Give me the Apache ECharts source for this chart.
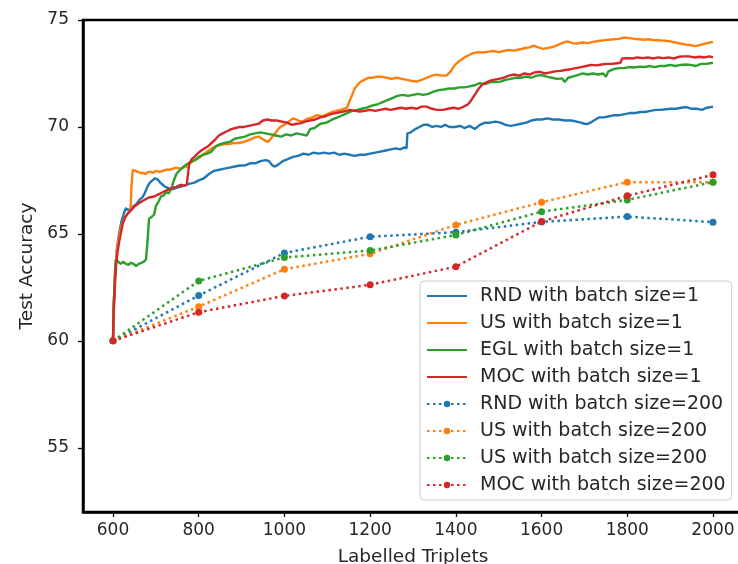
<!DOCTYPE html>
<html>
<head>
<meta charset="utf-8">
<script src="https://cdn.jsdelivr.net/npm/echarts@6/dist/echarts.min.js"></script>
<style>
  html, body { margin: 0; padding: 0; background: #fff; }
  #chart { width: 738px; height: 564px; }
</style>
</head>
<body>
<div id="chart"></div>
<script>
// batch size = 1 curves, [labelled triplets, accuracy]
const rnd1 = [[600,60],[602,61.8],[605,63.2],[609,64.3],[614,65.0],[620,65.6],[626,66.0],[630,66.2],[636,66.1],[642,66.2],[648,66.3],[655,66.4],[662,66.6],[668,66.7],[674,66.9],[680,67.2],[686,67.4],[692,67.5],[698,67.6],[704,67.55],[710,67.4],[716,67.3],[722,67.2],[728,67.15],[734,67.1],[740,67.1],[748,67.15],[756,67.2],[764,67.25],[772,67.3],[780,67.35],[790,67.4],[800,67.5],[812,67.6],[824,67.8],[836,67.95],[848,68.0],[860,68.05],[872,68.1],[884,68.15],[896,68.2],[908,68.2],[920,68.3],[932,68.3],[944,68.4],[956,68.45],[964,68.4],[972,68.2],[978,68.15],[986,68.25],[996,68.4],[1008,68.5],[1020,68.6],[1032,68.65],[1044,68.75],[1056,68.7],[1068,68.8],[1080,68.75],[1092,68.8],[1104,68.75],[1116,68.8],[1128,68.7],[1140,68.75],[1152,68.7],[1164,68.65],[1176,68.7],[1188,68.7],[1200,68.75],[1212,68.8],[1224,68.85],[1236,68.9],[1248,68.95],[1260,69.0],[1270,68.95],[1280,69.05],[1285,69.0],[1287,69.7],[1295,69.75],[1305,69.9],[1315,70.0],[1325,70.1],[1335,70.1],[1345,70.0],[1355,70.05],[1365,70.0],[1375,70.1],[1385,70.0],[1398,70.0],[1410,70.05],[1420,69.95],[1432,70.05],[1444,69.9],[1456,70.1],[1468,70.2],[1480,70.2],[1492,70.25],[1504,70.2],[1516,70.1],[1528,70.05],[1540,70.1],[1552,70.15],[1564,70.2],[1576,70.3],[1588,70.35],[1600,70.35],[1614,70.4],[1626,70.35],[1640,70.35],[1655,70.3],[1670,70.3],[1682,70.25],[1692,70.2],[1700,70.15],[1707,70.14],[1714,70.2],[1722,70.3],[1735,70.45],[1746,70.45],[1758,70.5],[1770,70.55],[1782,70.55],[1794,70.6],[1806,70.65],[1818,70.65],[1830,70.7],[1842,70.7],[1854,70.75],[1866,70.8],[1878,70.8],[1890,70.83],[1902,70.85],[1914,70.85],[1926,70.9],[1938,70.93],[1950,70.85],[1962,70.85],[1974,70.8],[1986,70.9],[2000,70.95]];

const us1 = [[600,60],[602,61.8],[605,63.3],[609,64.2],[614,64.9],[620,65.4],[626,65.7],[632,65.9],[637,66.0],[641,66.1],[643,67.2],[646,68.0],[652,67.95],[658,67.9],[664,67.85],[670,67.85],[676,67.8],[682,67.9],[688,67.9],[694,67.85],[700,67.95],[708,67.9],[716,67.95],[724,68.0],[732,68.0],[740,68.05],[748,68.1],[756,68.05],[764,68.1],[772,68.15],[780,68.3],[790,68.45],[800,68.55],[810,68.7],[820,68.85],[830,69.0],[840,69.1],[850,69.15],[860,69.2],[870,69.2],[882,69.25],[894,69.25],[906,69.3],[918,69.4],[930,69.5],[940,69.55],[948,69.45],[956,69.35],[962,69.3],[970,69.5],[980,69.75],[990,70.0],[1000,70.1],[1010,70.25],[1020,70.4],[1028,70.35],[1037,70.25],[1046,70.3],[1056,70.4],[1066,70.45],[1076,70.55],[1088,70.5],[1100,70.6],[1112,70.7],[1122,70.75],[1130,70.8],[1140,70.85],[1146,70.9],[1152,71.2],[1158,71.5],[1164,71.8],[1170,71.95],[1177,72.1],[1186,72.2],[1196,72.3],[1206,72.3],[1216,72.35],[1226,72.35],[1238,72.3],[1250,72.25],[1262,72.3],[1274,72.25],[1286,72.2],[1298,72.15],[1308,72.12],[1320,72.2],[1332,72.3],[1344,72.4],[1355,72.45],[1366,72.4],[1378,72.4],[1388,72.6],[1398,72.9],[1409,73.1],[1420,73.25],[1430,73.35],[1440,73.45],[1452,73.5],[1464,73.48],[1476,73.52],[1488,73.55],[1500,73.5],[1512,73.55],[1524,73.6],[1536,73.57],[1548,73.62],[1560,73.68],[1572,73.72],[1582,73.8],[1592,73.72],[1604,73.65],[1616,73.7],[1628,73.75],[1640,73.85],[1652,73.95],[1660,74.0],[1672,73.92],[1684,73.9],[1696,73.95],[1708,73.92],[1720,73.98],[1732,74.02],[1744,74.05],[1756,74.08],[1768,74.1],[1780,74.12],[1792,74.18],[1804,74.15],[1816,74.12],[1828,74.1],[1840,74.08],[1852,74.1],[1864,74.05],[1876,74.05],[1888,74.03],[1900,74.0],[1912,73.95],[1924,73.9],[1936,73.85],[1948,73.82],[1960,73.78],[1972,73.85],[1984,73.9],[1992,73.95],[2000,73.98]];

const egl1 = [[600,60],[602,61.8],[605,63.2],[607,63.8],[612,63.7],[618,63.6],[624,63.7],[630,63.6],[636,63.55],[642,63.65],[648,63.6],[654,63.5],[660,63.6],[666,63.65],[672,63.7],[677,63.8],[680,64.5],[684,65.7],[690,65.8],[696,65.9],[700,66.3],[706,66.5],[712,66.75],[718,66.8],[724,66.95],[730,66.9],[736,67.1],[742,67.5],[748,67.8],[754,67.95],[760,68.05],[768,68.2],[776,68.3],[784,68.4],[792,68.45],[800,68.6],[810,68.7],[820,68.75],[830,68.85],[840,69.1],[850,69.2],[860,69.25],[872,69.3],[884,69.45],[896,69.5],[908,69.55],[920,69.65],[932,69.7],[944,69.75],[956,69.7],[968,69.65],[980,69.6],[992,69.55],[1004,69.65],[1016,69.6],[1028,69.7],[1040,69.65],[1052,69.6],[1060,69.9],[1070,69.95],[1084,70.15],[1098,70.2],[1112,70.35],[1124,70.45],[1136,70.55],[1146,70.65],[1158,70.75],[1170,70.8],[1180,70.85],[1192,70.9],[1204,71.0],[1216,71.05],[1228,71.15],[1240,71.25],[1252,71.35],[1264,71.45],[1276,71.5],[1288,71.45],[1300,71.5],[1312,71.55],[1324,71.5],[1336,71.55],[1348,71.65],[1360,71.72],[1372,71.75],[1384,71.8],[1396,71.8],[1408,71.85],[1420,71.85],[1432,71.9],[1444,71.95],[1456,72.05],[1468,72.0],[1480,72.1],[1492,72.1],[1504,72.12],[1516,72.2],[1528,72.25],[1540,72.3],[1552,72.3],[1564,72.35],[1576,72.3],[1588,72.4],[1600,72.42],[1612,72.35],[1624,72.3],[1636,72.25],[1648,72.27],[1654,72.1],[1662,72.3],[1680,72.4],[1696,72.5],[1708,72.45],[1720,72.5],[1732,72.45],[1744,72.5],[1750,72.35],[1756,72.6],[1768,72.7],[1780,72.75],[1792,72.75],[1804,72.8],[1816,72.78],[1828,72.82],[1840,72.8],[1852,72.85],[1864,72.8],[1876,72.85],[1888,72.85],[1900,72.9],[1912,72.85],[1924,72.9],[1936,72.92],[1948,72.9],[1960,72.85],[1972,72.95],[1984,72.95],[2000,73.0]];

const moc1 = [[600,60],[601,61],[603,61.9],[605,62.8],[607,63.5],[611,64.2],[615,64.7],[619,65.1],[623,65.5],[628,65.75],[634,65.95],[642,66.1],[650,66.28],[658,66.4],[666,66.5],[674,66.6],[684,66.7],[696,66.75],[706,66.85],[716,66.95],[727,67.05],[738,67.15],[748,67.2],[758,67.3],[766,67.25],[772,67.3],[776,67.35],[778,68.3],[784,68.5],[790,68.6],[797,68.75],[806,68.9],[814,69.0],[822,69.1],[830,69.25],[838,69.4],[847,69.6],[856,69.7],[866,69.8],[876,69.9],[886,69.95],[896,70.0],[906,70.0],[916,70.05],[928,70.1],[940,70.15],[950,70.3],[960,70.35],[970,70.3],[982,70.3],[994,70.25],[1006,70.2],[1018,70.1],[1028,70.15],[1037,70.17],[1048,70.25],[1060,70.3],[1072,70.35],[1084,70.45],[1096,70.5],[1108,70.6],[1120,70.65],[1132,70.7],[1144,70.75],[1153,70.8],[1164,70.75],[1176,70.72],[1188,70.75],[1200,70.8],[1212,70.75],[1223,70.8],[1236,70.85],[1248,70.8],[1260,70.85],[1272,70.9],[1284,70.85],[1296,70.9],[1308,70.85],[1320,70.95],[1332,70.95],[1344,70.85],[1356,70.8],[1370,70.8],[1382,70.85],[1394,70.9],[1406,70.85],[1418,70.95],[1428,71.05],[1436,71.25],[1444,71.5],[1452,71.75],[1460,71.95],[1468,72.05],[1478,72.15],[1488,72.2],[1500,72.25],[1512,72.3],[1524,72.4],[1536,72.45],[1548,72.4],[1560,72.5],[1572,72.45],[1584,72.55],[1596,72.58],[1608,72.5],[1620,72.55],[1632,72.6],[1644,72.62],[1656,72.66],[1668,72.7],[1680,72.75],[1692,72.8],[1704,72.85],[1716,72.9],[1728,72.88],[1740,72.92],[1752,72.95],[1764,72.95],[1776,72.98],[1784,73.0],[1788,73.2],[1800,73.22],[1812,73.2],[1824,73.25],[1836,73.22],[1848,73.25],[1860,73.2],[1872,73.25],[1884,73.22],[1896,73.25],[1908,73.2],[1920,73.28],[1932,73.3],[1944,73.3],[1956,73.25],[1968,73.28],[1980,73.25],[1992,73.3],[2000,73.25]];

// batch size = 200 runs
const batchX = [600, 800, 1000, 1200, 1400, 1600, 1800, 2000];
const rnd200 = [60.0, 62.12, 64.11, 64.87, 65.08, 65.56, 65.81, 65.55];
const us200  = [60.0, 61.6, 63.35, 64.07, 65.42, 66.48, 67.42, 67.42];
const egl200 = [60.0, 62.8, 63.9, 64.22, 64.95, 66.04, 66.59, 67.42];
const moc200 = [60.0, 61.34, 62.1, 62.62, 63.47, 65.58, 66.78, 67.76];

const xTicks = [600, 800, 1000, 1200, 1400, 1600, 1800, 2000];
const yTicks = [55, 60, 65, 70, 75];

const colors = ['#1f77b4', '#ff7f0e', '#2ca02c', '#d62728'];

function pairs(xs, ys) {
    return xs.map((x, i) => [x, ys[i]]);
}

function solid(name, data, color) {
    return {
        name: name, type: 'line', data: data,
        symbol: 'none', showSymbol: false,
        lineStyle: { color: color, width: 2.4 },
        itemStyle: { color: color }
    };
}

function dotted(name, data, color) {
    return {
        name: name, type: 'line', data: data,
        symbol: 'circle', symbolSize: 7,
        lineStyle: { color: color, width: 2.5, type: [2.5, 3.5] },
        itemStyle: { color: color }
    };
}

const font = 'DejaVu Sans';

let myChart = echarts.init(document.getElementById('chart'));
var option = {
    animation: false,
    backgroundColor: '#fff',
    textStyle: { fontFamily: font },
    grid: {
        left: 83, top: 20, right: -5, bottom: 52,
        outerBoundsMode: 'none',
        show: true, borderColor: '#000', borderWidth: 2.5
    },
    xAxis: {
        type: 'value', min: 530, max: 2070,
        name: 'Labelled Triplets', nameLocation: 'middle', nameGap: 36,
        nameTextStyle: { fontSize: 18.5, color: '#262626', fontFamily: font },
        axisLine: { show: true, lineStyle: { color: '#000', width: 2.5 } },
        axisTick: { show: true, length: 5, customValues: xTicks, lineStyle: { color: '#000', width: 1.3 } },
        axisLabel: {
            customValues: xTicks, margin: 10, fontSize: 17, color: '#262626', fontFamily: font,
            formatter: function (v) { return String(v); }
        },
        splitLine: { show: false }
    },
    yAxis: {
        type: 'value', min: 52, max: 75,
        name: 'Test Accuracy', nameLocation: 'middle', nameGap: 45,
        nameTextStyle: { fontSize: 18.5, color: '#262626', fontFamily: font },
        axisLine: { show: true, lineStyle: { color: '#000', width: 2.5 } },
        axisTick: { show: true, length: 5, customValues: yTicks, lineStyle: { color: '#000', width: 1.3 } },
        axisLabel: { customValues: yTicks, margin: 14, fontSize: 17, color: '#262626', fontFamily: font },
        splitLine: { show: false }
    },
    legend: {
        orient: 'vertical', left: 420, top: 281,
        padding: [5, 6, 5, 6],
        itemWidth: 40, itemHeight: 8, itemGap: 7,
        backgroundColor: 'rgba(255,255,255,0.85)',
        borderColor: '#cccccc', borderWidth: 1, borderRadius: 4,
        textStyle: { fontSize: 19, lineHeight: 20, color: '#262626', fontFamily: font, padding: [0, 0, 0, 8] },
        data: [
            { name: 'RND with batch size=1', itemStyle: { opacity: 0 } },
            { name: 'US with batch size=1', itemStyle: { opacity: 0 } },
            { name: 'EGL with batch size=1', itemStyle: { opacity: 0 } },
            { name: 'MOC with batch size=1', itemStyle: { opacity: 0 } },
            'RND with batch size=200', 'US with batch size=200', 'US with batch size=200 ', 'MOC with batch size=200'
        ]
    },
    series: [
        solid('RND with batch size=1', rnd1, colors[0]),
        solid('US with batch size=1', us1, colors[1]),
        solid('EGL with batch size=1', egl1, colors[2]),
        solid('MOC with batch size=1', moc1, colors[3]),
        dotted('RND with batch size=200', pairs(batchX, rnd200), colors[0]),
        dotted('US with batch size=200', pairs(batchX, us200), colors[1]),
        dotted('US with batch size=200 ', pairs(batchX, egl200), colors[2]),
        dotted('MOC with batch size=200', pairs(batchX, moc200), colors[3])
    ]
};
if (option && typeof option === 'object') {
    myChart.setOption(option);
}
</script>
</body>
</html>
